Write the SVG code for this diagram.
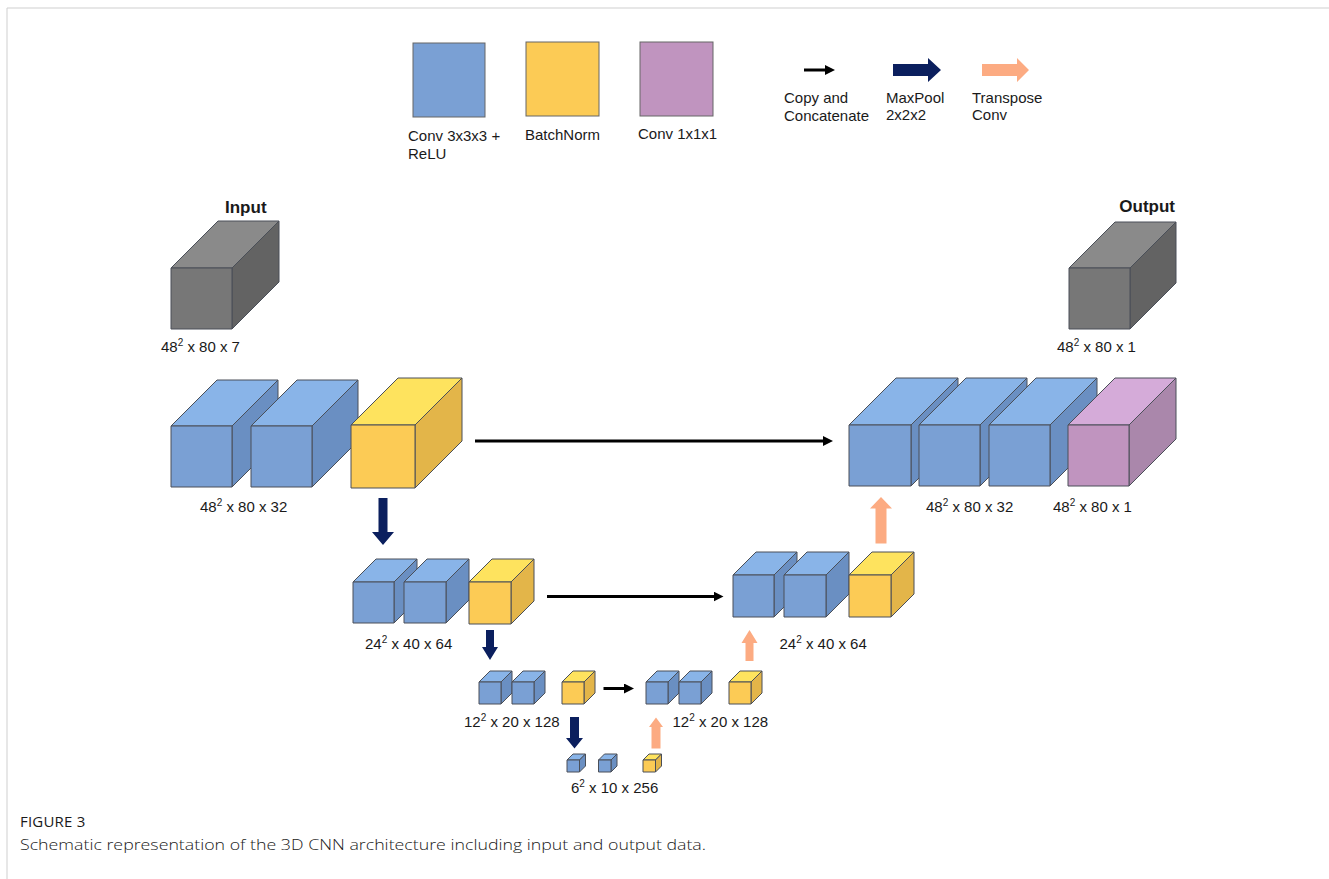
<svg xmlns="http://www.w3.org/2000/svg" width="1329" height="879" viewBox="0 0 1329 879">
<style>
text{font-family:"Liberation Sans",Arial,sans-serif;font-size:15px;fill:#1a1a1a}
.b{font-weight:bold;font-size:17px}
.cap{font-family:"Open Sans","Liberation Sans",sans-serif}
.c polygon,.c rect{stroke:#4a4f58;stroke-width:1;stroke-linejoin:round}
.bf{fill:#7aa0d4}.bt{fill:#89b4e8}.bs{fill:#6a8fc2}
.yf{fill:#fccb55}.yt{fill:#fee35e}.ys{fill:#e3b549}
.pf{fill:#c094bf}.pt{fill:#d5abd9}.ps{fill:#aa87ab}
.gf{fill:#777777}.gt{fill:#8a8a8a}.gs{fill:#636363}
.cp{stroke:#000;stroke-width:3;fill:none}
.mp{fill:#0b1f5e}
.tc{fill:#fcab82}
.sw{stroke:#666;stroke-width:1}
</style>
<defs>
<marker id="ah" viewBox="0 0 10 10" refX="3" refY="5" markerWidth="10" markerHeight="10" markerUnits="userSpaceOnUse" orient="auto"><path d="M0,0 L10,5 L0,10 z" fill="#000"/></marker>
</defs>
<rect width="1329" height="879" fill="#fff"/>
<path d="M7,879 V8 H1329" fill="none" stroke="#cfcfcf" stroke-width="1"/>

<g id="legend">
<rect class="bf sw" x="413" y="43" width="72" height="74"/>
<rect class="yf sw" x="526" y="42" width="73" height="74"/>
<rect class="pf sw" x="640" y="42" width="73" height="74"/>
<text x="408" y="141">Conv 3x3x3 +</text>
<text x="408" y="159">ReLU</text>
<text x="525" y="140">BatchNorm</text>
<text x="638" y="139">Conv 1x1x1</text>
<line class="cp" x1="804" y1="70" x2="828" y2="70" stroke-width="2.5" marker-end="url(#ah)"/>
<polygon class="mp" points="893,64 928,64 928,58 941,70 928,82 928,76 893,76"/>
<polygon class="tc" points="982,64 1017,64 1017,58 1029,70 1017,82 1017,76 982,76"/>
<text x="784" y="103">Copy and</text>
<text x="784" y="121">Concatenate</text>
<text x="886" y="103">MaxPool</text>
<text x="886" y="120">2x2x2</text>
<text x="972" y="103">Transpose</text>
<text x="972" y="120">Conv</text>
</g>

<g id="input" class="c">
<polygon class="gt" points="171,268 218,221 279,221 232,268"/>
<polygon class="gs" points="232,268 279,221 279,282 232,329"/>
<rect class="gf" x="171" y="268" width="61" height="61"/>
<text class="b" x="225" y="212.5">Input</text>
<text x="161" y="352">48<tspan font-size="10" dy="-6">2</tspan><tspan dy="6"> x 80 x 7</tspan></text>
</g>

<g id="output" class="c">
<polygon class="gt" points="1069,268 1115,222 1176,222 1130,268"/>
<polygon class="gs" points="1130,268 1176,222 1176,283 1130,329"/>
<rect class="gf" x="1069" y="268" width="61" height="61"/>
<text class="b" x="1175" y="212" text-anchor="end">Output</text>
<text x="1057" y="352">48<tspan font-size="10" dy="-6">2</tspan><tspan dy="6"> x 80 x 1</tspan></text>
</g>

<g id="enc1" class="c">
<polygon class="bt" points="171,426 217,380 278,380 232,426"/>
<polygon class="bs" points="232,426 278,380 278,441 232,487"/>
<rect class="bf" x="171" y="426" width="61" height="61"/>
<polygon class="bt" points="251,426 297,380 358,380 312,426"/>
<polygon class="bs" points="312,426 358,380 358,441 312,487"/>
<rect class="bf" x="251" y="426" width="61" height="61"/>
<polygon class="yt" points="351,425 398,378 462,378 415,425"/>
<polygon class="ys" points="415,425 462,378 462,441 415,488"/>
<rect class="yf" x="351" y="425" width="64" height="63"/>
<text x="200" y="512">48<tspan font-size="10" dy="-6">2</tspan><tspan dy="6"> x 80 x 32</tspan></text>
</g>

<g id="dec1" class="c">
<polygon class="bt" points="849,425 896,378 958,378 911,425"/>
<polygon class="bs" points="911,425 958,378 958,439 911,486"/>
<rect class="bf" x="849" y="425" width="62" height="61"/>
<polygon class="bt" points="919,425 966,378 1027,378 980,425"/>
<polygon class="bs" points="980,425 1027,378 1027,439 980,486"/>
<rect class="bf" x="919" y="425" width="61" height="61"/>
<polygon class="bt" points="989,425 1036,378 1097,378 1050,425"/>
<polygon class="bs" points="1050,425 1097,378 1097,439 1050,486"/>
<rect class="bf" x="989" y="425" width="61" height="61"/>
<polygon class="pt" points="1068,425 1115,378 1176,378 1129,425"/>
<polygon class="ps" points="1129,425 1176,378 1176,439 1129,486"/>
<rect class="pf" x="1068" y="425" width="61" height="61"/>
<text x="926" y="512">48<tspan font-size="10" dy="-6">2</tspan><tspan dy="6"> x 80 x 32</tspan></text>
<text x="1053" y="512">48<tspan font-size="10" dy="-6">2</tspan><tspan dy="6"> x 80 x 1</tspan></text>
</g>

<g id="enc2" class="c">
<polygon class="bt" points="353,582 376,559 417,559 394,582"/>
<polygon class="bs" points="394,582 417,559 417,600 394,623"/>
<rect class="bf" x="353" y="582" width="41" height="41"/>
<polygon class="bt" points="404,582 427,559 469,559 446,582"/>
<polygon class="bs" points="446,582 469,559 469,600 446,623"/>
<rect class="bf" x="404" y="582" width="42" height="41"/>
<polygon class="yt" points="469,582 492,559 534,559 511,582"/>
<polygon class="ys" points="511,582 534,559 534,601 511,624"/>
<rect class="yf" x="469" y="582" width="42" height="42"/>
<text x="365" y="649">24<tspan font-size="10" dy="-6">2</tspan><tspan dy="6"> x 40 x 64</tspan></text>
</g>

<g id="dec2" class="c">
<polygon class="bt" points="733,575 756,552 797,552 774,575"/>
<polygon class="bs" points="774,575 797,552 797,594 774,617"/>
<rect class="bf" x="733" y="575" width="41" height="42"/>
<polygon class="bt" points="784,575 807,552 849,552 826,575"/>
<polygon class="bs" points="826,575 849,552 849,594 826,617"/>
<rect class="bf" x="784" y="575" width="42" height="42"/>
<polygon class="yt" points="849,575 872,552 914,552 891,575"/>
<polygon class="ys" points="891,575 914,552 914,594 891,617"/>
<rect class="yf" x="849" y="575" width="42" height="42"/>
<text x="779.5" y="649">24<tspan font-size="10" dy="-6">2</tspan><tspan dy="6"> x 40 x 64</tspan></text>
</g>

<g id="enc3" class="c">
<polygon class="bt" points="479,682 490,671 512,671 501,682"/>
<polygon class="bs" points="501,682 512,671 512,693 501,704"/>
<rect class="bf" x="479" y="682" width="22" height="22"/>
<polygon class="bt" points="512,682 523,671 545,671 534,682"/>
<polygon class="bs" points="534,682 545,671 545,693 534,704"/>
<rect class="bf" x="512" y="682" width="22" height="22"/>
<polygon class="yt" points="562,682 573,671 595,671 584,682"/>
<polygon class="ys" points="584,682 595,671 595,693 584,704"/>
<rect class="yf" x="562" y="682" width="22" height="22"/>
<text x="464" y="727">12<tspan font-size="10" dy="-6">2</tspan><tspan dy="6"> x 20 x 128</tspan></text>
</g>

<g id="dec3" class="c">
<polygon class="bt" points="646,682 657,671 679,671 668,682"/>
<polygon class="bs" points="668,682 679,671 679,693 668,704"/>
<rect class="bf" x="646" y="682" width="22" height="22"/>
<polygon class="bt" points="679,682 690,671 712,671 701,682"/>
<polygon class="bs" points="701,682 712,671 712,693 701,704"/>
<rect class="bf" x="679" y="682" width="22" height="22"/>
<polygon class="yt" points="729,682 740,671 762,671 751,682"/>
<polygon class="ys" points="751,682 762,671 762,693 751,704"/>
<rect class="yf" x="729" y="682" width="22" height="22"/>
<text x="672.5" y="727">12<tspan font-size="10" dy="-6">2</tspan><tspan dy="6"> x 20 x 128</tspan></text>
</g>

<g id="bottleneck" class="c">
<polygon class="bt" points="567,760 573,754 585.5,754 579.5,760"/>
<polygon class="bs" points="579.5,760 585.5,754 585.5,766 579.5,772"/>
<rect class="bf" x="567" y="760" width="12.5" height="12"/>
<polygon class="bt" points="598.5,760 604.5,754 617,754 611,760"/>
<polygon class="bs" points="611,760 617,754 617,766 611,772"/>
<rect class="bf" x="598.5" y="760" width="12.5" height="12"/>
<polygon class="yt" points="643,760 649,754 661.5,754 655.5,760"/>
<polygon class="ys" points="655.5,760 661.5,754 661.5,766 655.5,772"/>
<rect class="yf" x="643" y="760" width="12.5" height="12"/>
<text x="571" y="793">6<tspan font-size="10" dy="-6">2</tspan><tspan dy="6"> x 10 x 256</tspan></text>
</g>

<g id="connectors">
<line class="cp" x1="475" y1="441" x2="826" y2="441" marker-end="url(#ah)"/>
<line class="cp" x1="547" y1="596.5" x2="716.5" y2="596.5" marker-end="url(#ah)"/>
<line class="cp" x1="603.5" y1="688.5" x2="627" y2="688.5" marker-end="url(#ah)"/>
<polygon class="mp" points="378.5,498 387.5,498 387.5,532 394,532 383,545 372,532 378.5,532"/>
<polygon class="mp" points="486,630 494,630 494,647 498,647 490,660 482,647 486,647"/>
<polygon class="mp" points="570,717 579,717 579,738 583,738 574.5,748.5 566,738 570,738"/>
<polygon class="tc" points="875.5,543.5 886.5,543.5 886.5,508.5 892,508.5 881,497 870,508.5 875.5,508.5"/>
<polygon class="tc" points="745.5,661 753.5,661 753.5,643 757.5,643 749.5,630 741.5,643 745.5,643"/>
<polygon class="tc" points="651.5,748.5 660.5,748.5 660.5,727 663,727 656,717.5 649,727 651.5,727"/>
</g>

<g id="caption">
<text class="cap" x="20" y="827" font-size="11.5" fill="#555" letter-spacing="0.2">FIGURE 3</text>
<text class="cap" x="20" y="849.5" font-size="17.5" fill="#444" font-weight="300" textLength="686" lengthAdjust="spacingAndGlyphs">Schematic representation of the 3D CNN architecture including input and output data.</text>
</g>
</svg>
